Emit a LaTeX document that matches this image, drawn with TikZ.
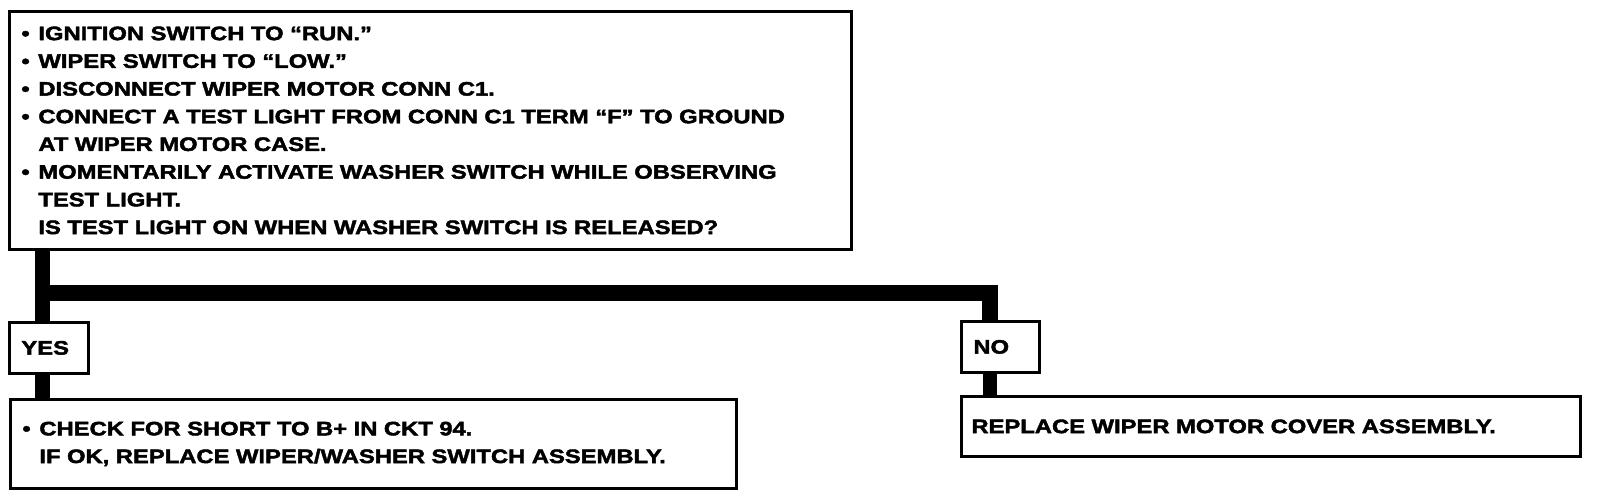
\documentclass[tikz,border=0pt]{standalone}
\usepackage{fontspec}
\setmainfont{Liberation Sans}[FakeStretch=1.22, FakeBold=2.2]
\newcommand{\blt}{\makebox[17pt][l]{\textbullet}}
\newcommand{\hin}{\hspace*{17pt}}
\begin{document}
\begin{tikzpicture}[x=1pt,y=-1pt,
  font=\fontsize{19.5pt}{27.7pt}\selectfont\bfseries,
  box/.style={draw=black, line width=2.8pt, fill=white, align=left, inner ysep=0pt},
  stem/.style={line width=15pt, draw=black},
  bar/.style={line width=16pt, draw=black, line join=miter}]
\fill[white] (0,0) rectangle (1600,494);
\useasboundingbox (0,0) rectangle (1600,494);

\coordinate (sx) at (42,0);
\coordinate (bl) at (42,293);
\coordinate (br) at (990,293);

\node[box, anchor=north west, text width=818pt, inner xsep=12pt, minimum height=238pt] (q) at (8,10)
 {\blt IGNITION SWITCH TO “RUN.”\\
  \blt WIPER SWITCH TO “LOW.”\\
  \blt DISCONNECT WIPER MOTOR CONN C1.\\
  \blt CONNECT A TEST LIGHT FROM CONN C1 TERM “F” TO GROUND\\
  \hin AT WIPER MOTOR CASE.\\
  \blt MOMENTARILY ACTIVATE WASHER SWITCH WHILE OBSERVING\\
  \hin TEST LIGHT.\\
  \hin IS TEST LIGHT ON WHEN WASHER SWITCH IS RELEASED?};

\node[box, anchor=north west, text width=55pt, inner xsep=12pt, minimum height=51pt] (yes) at (8,321) {YES};
\node[box, anchor=north west, text width=54pt, inner xsep=12pt, minimum height=51pt] (no) at (960,320) {NO};

\node[box, anchor=north west, text width=702pt, inner xsep=12pt, minimum height=89pt] (a1) at (9,398)
 {\blt CHECK FOR SHORT TO B+ IN CKT 94.\\
  \hin IF OK, REPLACE WIPER/WASHER SWITCH ASSEMBLY.};

\node[box, anchor=north west, text width=599pt, inner xsep=10pt, minimum height=60pt] (a2) at (960,395)
 {REPLACE WIPER MOTOR COVER ASSEMBLY.};

\draw[stem] (q.south -| sx) -- (yes.north -| sx);
\draw[stem] (yes.south -| sx) -- (a1.north -| sx);
\draw[bar] (bl) -- (br) -- (no.north -| br);
\draw[stem, line width=14pt] (no.south -| br) -- (a2.north -| br);
\end{tikzpicture}
\end{document}
